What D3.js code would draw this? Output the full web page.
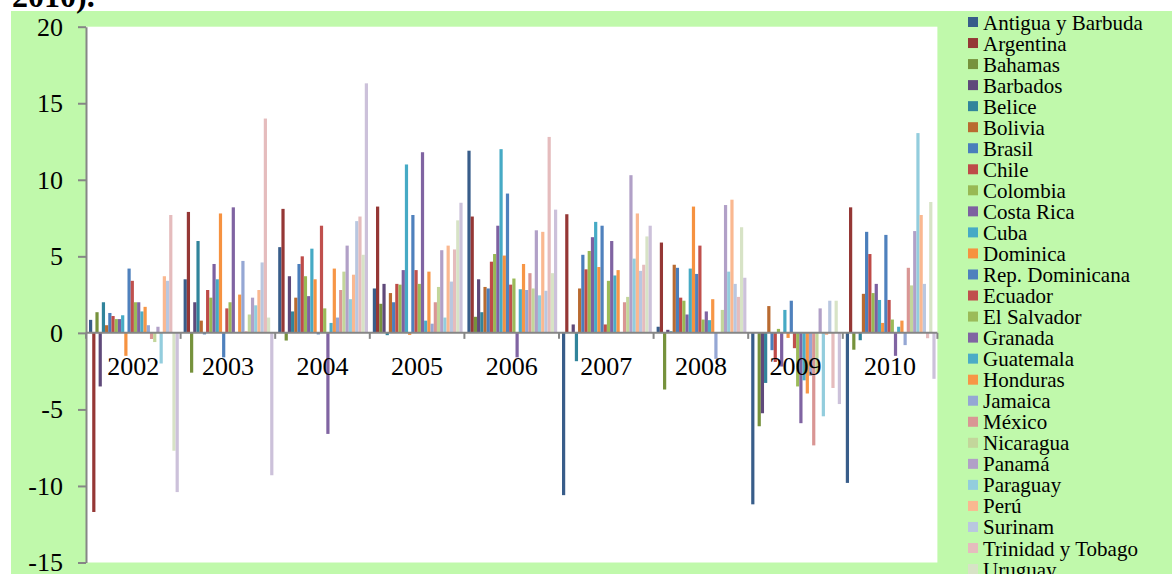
<!DOCTYPE html>
<html>
<head>
<meta charset="utf-8">
<script src="https://cdn.jsdelivr.net/npm/d3@7"></script>
<style>
  body { margin: 0; background: #fff; }
  svg { display: block; }
</style>
</head>
<body>
<svg id="chart"></svg>
<script>
const years = ['2002', '2003', '2004', '2005', '2006', '2007', '2008', '2009', '2010'];

const countries = ['Antigua y Barbuda', 'Argentina', 'Bahamas', 'Barbados', 'Belice', 'Bolivia', 'Brasil',
  'Chile', 'Colombia', 'Costa Rica', 'Cuba', 'Dominica', 'Rep. Dominicana', 'Ecuador', 'El Salvador',
  'Granada', 'Guatemala', 'Honduras', 'Jamaica', 'México', 'Nicaragua', 'Panamá', 'Paraguay', 'Perú',
  'Surinam', 'Trinidad y Tobago', 'Uruguay', 'Venezuela'];

// one value per country, same order as countries
const v2002 = [0.85, -11.7, 1.35, -3.5, 2.0, 0.5, 1.3, 1.1, 0.9, 0.9, 1.15, -1.5, 4.2, 3.4, 2.0, 2.0, 1.4, 1.7, 0.5, -0.4, -0.6, 0.4, -2.0, 3.7, 3.4, 7.7, -7.7, -10.4];
const v2003 = [3.5, 7.9, -2.6, 2.0, 6.0, 0.8, -0.1, 2.8, 2.3, 4.5, 3.5, 7.8, -1.6, 1.6, 2.0, 8.2, 0, 2.5, 4.7, 0.1, 1.2, 2.3, 1.8, 2.8, 4.6, 14.0, 1.0, -9.3];
const v2004 = [5.6, 8.1, -0.5, 3.7, 1.4, 2.3, 4.5, 5.0, 3.7, 2.4, 5.5, 3.5, -0.1, 7.0, 1.6, -6.6, 0.65, 4.2, 1.0, 2.8, 4.0, 5.7, 2.2, 3.8, 7.3, 7.6, 5.1, 16.3];
const v2005 = [2.9, 8.25, 1.9, 3.2, -0.15, 2.6, 2.0, 3.2, 3.15, 4.1, 11.0, -0.13, 7.7, 4.1, 3.2, 11.8, 0.8, 4.0, 0.6, 2.0, 3.0, 5.4, 1.0, 5.7, 3.35, 5.45, 7.35, 8.5];
const v2006 = [11.9, 7.6, 1.05, 3.5, 1.35, 3.0, 2.9, 4.65, 5.15, 7.0, 12.0, 5.05, 9.1, 3.15, 3.55, -1.6, 2.85, 4.5, 2.8, 3.9, 2.9, 6.7, 2.45, 6.6, 2.75, 12.8, 3.9, 8.05];
const v2007 = [-10.6, 7.75, 0, 0.55, -1.85, 2.9, 5.1, 4.15, 5.35, 6.25, 7.25, 4.3, 7.0, 0.55, 3.4, 6.0, 3.75, 4.1, 0.05, 2.0, 2.35, 10.3, 4.85, 7.8, 4.05, 4.45, 6.3, 7.0];
const v2008 = [0.4, 5.9, -3.7, 0.2, 0.1, 4.45, 4.25, 2.3, 2.1, 1.2, 4.2, 8.25, 3.85, 5.7, 0.87, 1.4, 0.83, 2.2, -1.7, 0, 1.5, 8.35, 4.0, 8.7, 3.2, 2.35, 6.9, 3.6];
const v2009 = [-11.2, 0, -6.1, -5.25, -3.27, 1.75, -1.13, -1.9, 0.26, -2.2, 1.5, -0.33, 2.1, -1.0, -3.5, -5.9, -3.1, -3.96, -2.8, -7.35, -2.6, 1.6, -5.45, -0.13, 2.1, -3.6, 2.1, -4.65];
const v2010 = [-9.8, 8.2, -1.1, 0, -0.48, 2.55, 6.6, 5.15, 2.6, 3.2, 2.15, 0.65, 6.4, 2.15, 0.87, -1.5, 0.4, 0.8, -0.8, 4.25, 3.1, 6.65, 13.05, 7.7, 3.2, -0.35, 8.55, -3.0];

const yearValues = [v2002, v2003, v2004, v2005, v2006, v2007, v2008, v2009, v2010];

const yTicks = [20, 15, 10, 5, 0, -5, -10, -15];

class GroupedBarChart {

    constructor(config, data) {
        this.config = {
            parent: config.parent,
            width: config.width || 1172,
            height: config.height || 574,
            plot: config.plot || {left: 86, top: 26.7, right: 937.4, bottom: 562.5},
            title: config.title || ''
        };
        this.data = data;
        this.init();
    }

    init() {
        let self = this;
        const p = self.config.plot;

        self.svg = d3.select(self.config.parent)
            .attr('width', self.config.width)
            .attr('height', self.config.height);

        // green chart area
        self.svg.append('rect')
            .attr('x', 11).attr('y', 11)
            .attr('width', self.config.width - 11)
            .attr('height', self.config.height - 11)
            .attr('fill', '#c0f9ab');

        // white plot area
        self.svg.append('rect')
            .attr('x', p.left).attr('y', p.top)
            .attr('width', p.right - p.left)
            .attr('height', p.bottom - p.top)
            .attr('fill', '#fff');

        // cut-off heading above the chart
        self.svg.append('text')
            .attr('x', 12).attr('y', 7)
            .style('font-family', '"Liberation Serif", "Times New Roman", serif')
            .style('font-size', '32px')
            .style('font-weight', 'bold')
            .text(self.config.title);

        self.xScale = d3.scaleBand()
            .domain(self.data.years)
            .range([p.left, p.right])
            .padding(0);

        self.xInner = d3.scaleBand()
            .domain(d3.range(self.data.countries.length))
            .range([0, self.xScale.bandwidth()])
            .paddingInner(0)
            .paddingOuter(0.75);

        self.yScale = d3.scaleLinear()
            .domain([-15, 20])
            .range([p.bottom, p.top]);

        self.palette = ['#385d8a', '#953735', '#76923c', '#5f497a', '#31849b', '#b96a30', '#4a7ebb',
            '#be4b48', '#98b954', '#7d60a0', '#46aac5', '#f69240', '#4f81bd', '#c0504d', '#9bbb59',
            '#8064a2', '#4bacc6', '#f79646', '#95a7d4', '#d99694', '#c3d69b', '#b1a0c7', '#93cddd',
            '#fab890', '#b9c7e0', '#e5bcbd', '#d7e3c6', '#ccc1da'];
    }

    render() {
        let self = this;
        const font = '"Liberation Serif", "Times New Roman", serif';
        const y0 = self.yScale(0);

        const groups = self.svg.selectAll('.year')
            .data(self.data.years)
            .enter()
            .append('g')
            .attr('class', 'year')
            .attr('transform', d => `translate(${self.xScale(d) + 0.6},0)`);

        groups.selectAll('rect')
            .data((d, gi) => self.data.values[gi].map((v, i) => ({v: v, i: i})))
            .enter()
            .append('rect')
            .attr('x', d => self.xInner(d.i))
            .attr('width', self.xInner.bandwidth())
            .attr('y', d => Math.min(self.yScale(d.v), y0))
            .attr('height', d => Math.abs(self.yScale(d.v) - y0))
            .attr('fill', d => self.palette[d.i]);

        // y axis
        const yAxis = d3.axisLeft(self.yScale)
            .tickValues(yTicks)
            .tickFormat(d => String(d))
            .tickSize(8)
            .tickSizeOuter(0)
            .tickPadding(15);

        const yg = self.svg.append('g')
            .attr('transform', `translate(${self.config.plot.left},0)`)
            .call(yAxis);
        yg.select('.domain').attr('stroke', '#868686').attr('stroke-width', 2);
        yg.selectAll('.tick line').attr('stroke', '#868686').attr('stroke-width', 2);
        yg.selectAll('.tick text')
            .style('font-family', font)
            .style('font-size', '26px')
            .attr('fill', '#000');

        // x axis on the zero line, ticks between categories
        const xg = self.svg.append('g');
        xg.append('line')
            .attr('x1', self.config.plot.left).attr('x2', self.config.plot.right)
            .attr('y1', y0).attr('y2', y0)
            .attr('stroke', '#868686').attr('stroke-width', 2);

        const bounds = self.data.years.map(d => self.xScale(d)).concat([self.config.plot.right]);
        xg.selectAll('.xtick')
            .data(bounds)
            .enter()
            .append('line')
            .attr('x1', d => d).attr('x2', d => d)
            .attr('y1', y0).attr('y2', y0 + 6)
            .attr('stroke', '#868686').attr('stroke-width', 2);

        xg.selectAll('.xlabel')
            .data(self.data.years)
            .enter()
            .append('text')
            .attr('x', d => self.xScale(d) + self.xScale.bandwidth() / 2)
            .attr('y', 375)
            .attr('text-anchor', 'middle')
            .style('font-family', font)
            .style('font-size', '26px')
            .text(d => d);

        // legend
        const leg = self.svg.selectAll('.legend')
            .data(self.data.countries)
            .enter()
            .append('g')
            .attr('class', 'legend')
            .attr('transform', (d, i) => `translate(968,${29.5 + i * 21.04})`);

        leg.append('rect')
            .attr('x', 0).attr('y', -12.5)
            .attr('width', 10).attr('height', 10)
            .attr('fill', (d, i) => self.palette[i]);

        leg.append('text')
            .attr('x', 15).attr('y', 0)
            .style('font-family', font)
            .style('font-size', '21px')
            .text(d => d);
    }
}

const chart = new GroupedBarChart({parent: '#chart', title: '2010).'},
    {years: years, countries: countries, values: yearValues});
chart.render();
</script>
</body>
</html>
